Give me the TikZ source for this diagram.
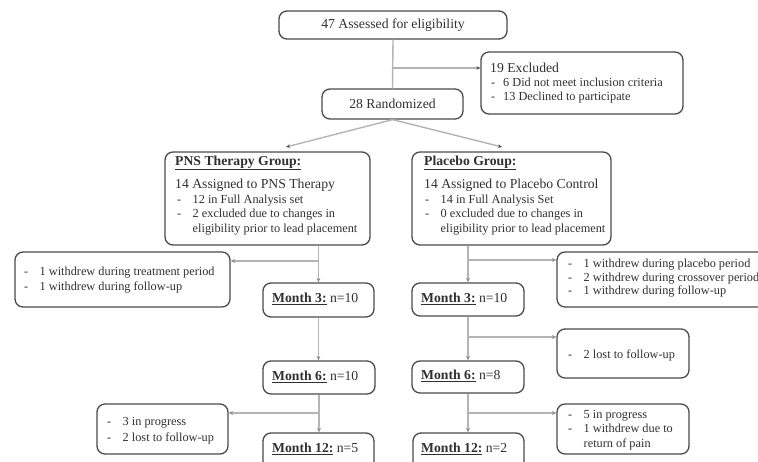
\documentclass[tikz,border=0pt]{standalone}
\usepackage{fontspec}
\setmainfont{Liberation Serif}
\usetikzlibrary{arrows.meta,fit}
\definecolor{boxc}{HTML}{4A4A4A}
\definecolor{linec}{HTML}{B4B4B4}
\definecolor{txtc}{HTML}{303030}
\newcommand\dsh{\makebox[15.5pt][l]{-}}
\newcommand\dshs{\makebox[12pt][l]{-}}
\newcommand\mfont{\fontsize{13.7}{16}\selectfont}
\newcommand\sfnt{\fontsize{12.3}{14}\selectfont}
\newcommand\mlab[1]{\underline{\textbf{#1}}}
\begin{document}
\begin{tikzpicture}[x=1pt,y=-1pt,
  box/.style={draw=boxc,line width=1.3pt,rounded corners=8pt,inner sep=0pt},
  txt/.style={text=txtc,inner sep=0pt,anchor=mid west,font=\mfont},
  stxt/.style={text=txtc,inner sep=0pt,anchor=mid west,font=\sfnt},
  conn/.style={draw=linec,line width=1.4pt},
  arr/.style={conn,-{Stealth[length=4.5pt,width=4pt,color=linec!80!black]}},
  darr/.style={conn,-{Stealth[length=4pt,width=3.5pt,color=boxc]}}
]
\useasboundingbox (0,0) rectangle (758,462);
\clip (0,0) rectangle (758,462);

% boxes
\node[box,fit={(279,11) (507,39)}] (top) {};
\node[box,fit={(481,52) (683,114)}] (excl) {};
\node[box,fit={(322,89) (463,119)}] (rand) {};
\node[box,fit={(165,152) (370,245)}] (pns) {};
\node[box,fit={(412,152) (611,245)}] (plc) {};
\node[box,fit={(15,252) (230,307)}] (wdl) {};
\node[box,fit={(263,283) (374,317)}] (m3l) {};
\node[box,fit={(557,252) (775,307)}] (wdr) {};
\node[box,fit={(412,283) (524,316)}] (m3r) {};
\node[box,fit={(557,329) (689,378)}] (lost) {};
\node[box,fit={(263,361) (375,394)}] (m6l) {};
\node[box,fit={(412,361) (524,393)}] (m6r) {};
\node[box,fit={(97,404) (228,454)}] (pgl) {};
\node[box,fit={(557,404) (689,454)}] (pgr) {};
\node[box,fit={(263,433) (374,475)}] (m12l) {};
\node[box,fit={(413,433) (524,475)}] (m12r) {};

% texts
\node[txt,anchor=center] (topt) at (top.center) {47 Assessed for eligibility};
\node[txt,anchor=center] (randt) at (rand.center) {28 Randomized};
\node[txt] (ex1) at (490,70) {19 Excluded};
\node[stxt] (ex2) at (491,84) {\dshs 6 Did not meet inclusion criteria};
\node[stxt] (ex3) at (491,98) {\dshs 13 Declined to participate};

\node[txt] (p1) at (175,163) {\mlab{PNS Therapy Group:}};
\node[txt] (p2) at (175,186) {14 Assigned to PNS Therapy};
\node[stxt] (p3) at (177,201) {\dsh 12 in Full Analysis set};
\node[stxt] (p4) at (177,215) {\dsh 2 excluded due to changes in};
\node[stxt] (p5) at (192.5,230) {eligibility prior to lead placement};

\node[txt] (q1) at (424,163) {\mlab{Placebo Group:}};
\node[txt] (q2) at (424,186) {14 Assigned to Placebo Control};
\node[stxt] (q3) at (425,201) {\dsh 14 in Full Analysis Set};
\node[stxt] (q4) at (425,215) {\dsh 0 excluded due to changes in};
\node[stxt] (q5) at (440.5,230) {eligibility prior to lead placement};

\node[stxt] (w1) at (24,273) {\dsh 1 withdrew during treatment period};
\node[stxt] (w2) at (24,288) {\dsh 1 withdrew during follow-up};

\node[stxt] (r1) at (568,265) {\dsh 1 withdrew during placebo period};
\node[stxt] (r2) at (568,279) {\dsh 2 withdrew during crossover period};
\node[stxt] (r3) at (568,292) {\dsh 1 withdrew during follow-up};

\node[stxt] (l1) at (568,356) {\dsh 2 lost to follow-up};

\node[stxt] (g1) at (107,423) {\dsh 3 in progress};
\node[stxt] (g2) at (107,439) {\dsh 2 lost to follow-up};

\node[stxt] (h1) at (568,416) {\dsh 5 in progress};
\node[stxt] (h2) at (568,430) {\dsh 1 withdrew due to};
\node[stxt] (h3) at (583.5,445) {return of pain};

\node[txt] (m3lt) at (272,300) {\mlab{Month 3:} n=10};
\node[txt] (m6lt) at (272,378) {\mlab{Month 6:} n=10};
\node[txt] (m12lt) at (272,450) {\mlab{Month 12:} n=5};
\node[txt] (m3rt) at (421,300) {\mlab{Month 3:} n=10};
\node[txt] (m6rt) at (421,377) {\mlab{Month 6:} n=8};
\node[txt] (m12rt) at (421,450) {\mlab{Month 12:} n=2};

% connector coordinates
\coordinate (b0) at (393,68);
\coordinate (pa) at (286,147);
\coordinate (pb) at (502,147);
\coordinate (bl1) at (318.5,261);
\coordinate (bl2) at (318.5,413);
\coordinate (br1) at (468,260);
\coordinate (br2) at (468,337);
\coordinate (br3) at (468,413);

% connectors
\draw[conn] (top.south) -- (rand.north);
\draw[darr] (b0) -- (b0 -| excl.west);
\draw[darr] (rand.south) -- (pa);
\draw[darr] (rand.south) -- (pb);

\draw[arr] (m3l.north |- pns.south) -- (m3l.north);
\draw[arr] (bl1) -- (bl1 -| wdl.east);
\draw[arr] (m3l.south) -- (m3l.south |- m6l.north);
\draw[arr] (m6l.south) -- (m6l.south |- m12l.north);
\draw[arr] (bl2) -- (bl2 -| pgl.east);

\draw[arr] (m3r.north |- plc.south) -- (m3r.north);
\draw[arr] (br1) -- (br1 -| wdr.west);
\draw[arr] (m3r.south) -- (m3r.south |- m6r.north);
\draw[arr] (br2) -- (br2 -| lost.west);
\draw[arr] (m6r.south) -- (m6r.south |- m12r.north);
\draw[arr] (br3) -- (br3 -| pgr.west);
\end{tikzpicture}
\end{document}
